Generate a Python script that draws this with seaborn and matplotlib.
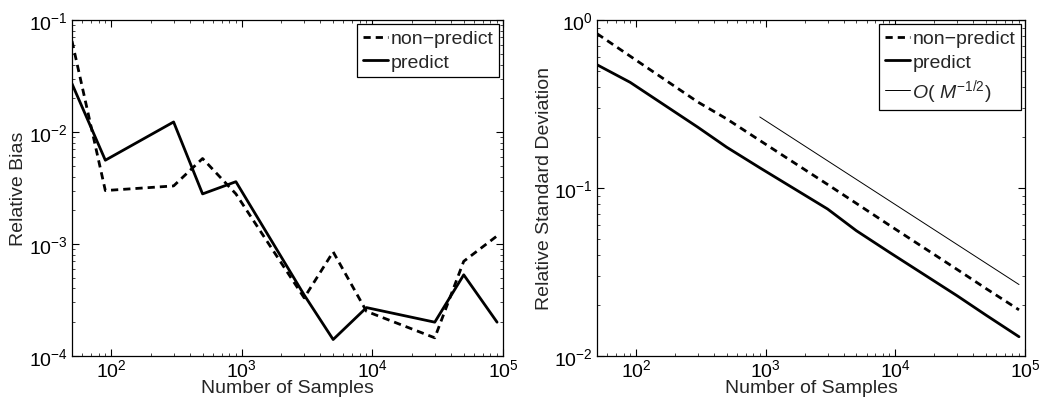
import matplotlib
matplotlib.use("Agg")
import matplotlib.pyplot as plt
import seaborn as sns
import pandas as pd

samples = [50, 90, 300, 500, 900, 3000, 5000, 9000, 30000, 50000, 90000]
bias_nonpredict = [0.065, 0.0030, 0.0033, 0.0058, 0.0028, 0.00033, 0.00085, 0.00025, 0.000145, 0.0007, 0.00118]
bias_predict = [0.027, 0.0056, 0.0123, 0.0028, 0.0036, 0.00035, 0.00014, 0.00027, 0.0002, 0.00053, 0.0002]
std_nonpredict = [0.83, 0.61, 0.325, 0.258, 0.192, 0.105, 0.081, 0.060, 0.0327, 0.0252, 0.0188]
std_predict = [0.542, 0.426, 0.23, 0.175, 0.132, 0.075, 0.0557, 0.0414, 0.0228, 0.0175, 0.013]
ref_x = [900, 90000]
ref_y = [0.265, 0.0266]

sns.set_style("ticks")
plt.rcParams['font.family'] = ['Liberation Sans', 'DejaVu Sans']
plt.rcParams['mathtext.fontset'] = 'custom'
plt.rcParams['mathtext.rm'] = 'Liberation Sans'
plt.rcParams['mathtext.it'] = 'Liberation Sans:italic'
plt.rcParams['mathtext.default'] = 'regular'
plt.rcParams['xtick.direction'] = 'in'
plt.rcParams['ytick.direction'] = 'in'
plt.rcParams['xtick.top'] = True
plt.rcParams['ytick.right'] = True

fig = plt.figure(figsize=(10.48, 4.06), dpi=100)
ax1 = fig.add_axes([0.0687, 0.121, 0.4113, 0.827])
ax2 = fig.add_axes([0.5697, 0.121, 0.4083, 0.827])

lw = 2.0
dash = (2.6, 1.8)
fs = 14

def style_axes(ax, ylim, ylabel):
    ax.set_xscale('log')
    ax.set_yscale('log')
    ax.set_xlim(50, 1e5)
    ax.set_ylim(*ylim)
    ax.set_xlabel('Number of Samples', fontsize=fs, labelpad=-0.5)
    ax.set_ylabel(ylabel, fontsize=fs, labelpad=1)
    ax.tick_params(axis='both', which='major', labelsize=fs, length=5, width=0.8, colors='black', pad=3)
    ax.tick_params(axis='x', which='major', pad=1.5)
    ax.tick_params(axis='both', which='minor', length=2.5, width=0.6)
    for s in ax.spines.values():
        s.set_linewidth(0.9)
        s.set_color('black')

df1 = pd.DataFrame({'x': samples, 'np': bias_nonpredict, 'p': bias_predict})
sns.lineplot(data=df1, x='x', y='np', ax=ax1, color='black', lw=lw,
             label='non\u2212predict').lines[-1].set_dashes(dash)
sns.lineplot(data=df1, x='x', y='p', ax=ax1, color='black', lw=lw, label='predict')
style_axes(ax1, (1e-4, 1e-1), 'Relative Bias')

df2 = pd.DataFrame({'x': samples, 'np': std_nonpredict, 'p': std_predict})
dfr = pd.DataFrame({'x': ref_x, 'y': ref_y})
sns.lineplot(data=df2, x='x', y='np', ax=ax2, color='black', lw=lw,
             label='non\u2212predict').lines[-1].set_dashes(dash)
sns.lineplot(data=df2, x='x', y='p', ax=ax2, color='black', lw=lw, label='predict')
sns.lineplot(data=dfr, x='x', y='y', ax=ax2, color='black', lw=0.7,
             label=r'$\mathit{O}(\ \mathit{M}^{-1/2})$')
style_axes(ax2, (1e-2, 1e0), 'Relative Standard Deviation')

for ax in (ax1, ax2):
    leg = ax.legend(loc='upper right', fontsize=fs, frameon=True, fancybox=False,
                    handlelength=1.3, handletextpad=0.1, borderpad=0.3, labelspacing=0.3,
                    borderaxespad=0.2)
    leg.get_frame().set_edgecolor('black')
    leg.get_frame().set_linewidth(0.9)
    leg.get_frame().set_alpha(1)
    leg.get_lines()[0].set_dashes(dash)

fig.savefig('out.png', dpi=100)
